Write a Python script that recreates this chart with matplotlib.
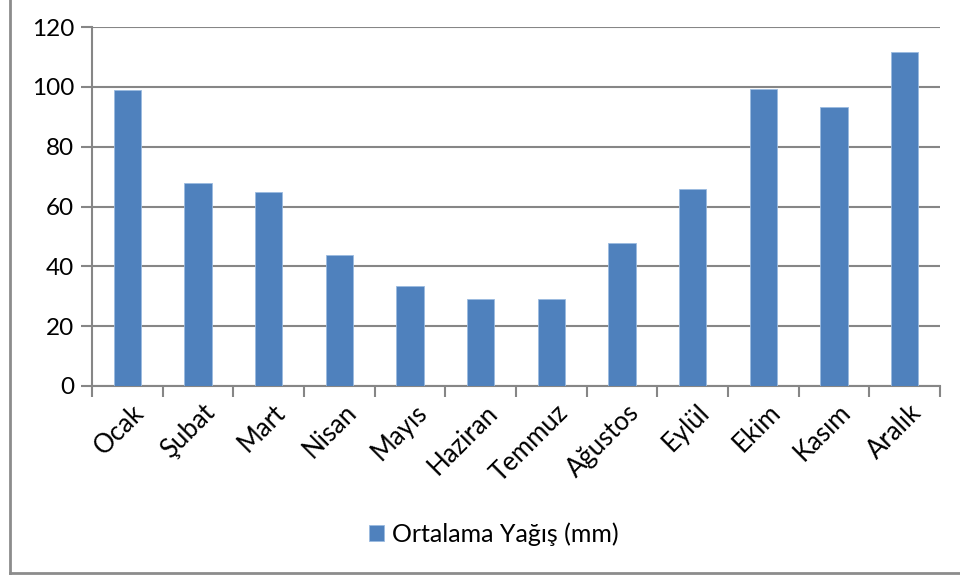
import matplotlib.pyplot as plt
from matplotlib.lines import Line2D

months = ['Ocak', 'Şubat', 'Mart', 'Nisan', 'Mayıs', 'Haziran',
          'Temmuz', 'Ağustos', 'Eylül', 'Ekim', 'Kasım', 'Aralık']
rain = [99, 67.7, 65, 43.8, 33.4, 29.1, 29.1, 47.8, 66, 99.3, 93.1, 111.7]
yticks = [0, 20, 40, 60, 80, 100, 120]
series_name = 'Ortalama Yağış (mm)'

plt.rcParams['font.family'] = ['Lato', 'DejaVu Sans']

fig = plt.figure(figsize=(9.6, 5.75), dpi=100)
ax = fig.add_axes([92 / 960, 1 - 386 / 575, 848 / 960, 359 / 575])

x = list(range(len(months)))
ax.bar(x, rain, width=0.39, color='#4F81BD', edgecolor='#9BBBE0',
       linewidth=0.6, label=series_name, zorder=3)

ax.set_ylim(0, 120)
ax.set_xlim(-0.5, len(months) - 0.5)
ax.set_yticks(yticks)
ax.yaxis.grid(True, color='#868686', linewidth=1.5, zorder=0)

# category ticks sit between the bars
ax.set_xticks([i - 0.5 for i in range(len(months) + 1)], minor=False)
ax.set_xticklabels([])
ax.set_xticks([i + 0.06 for i in x], minor=True)
ax.set_xticklabels(months, minor=True, rotation=45, ha='right',
                   rotation_mode='anchor', fontsize=18.5)
ax.tick_params(axis='x', which='minor', length=0, pad=10)
ax.tick_params(axis='x', which='major', length=8, width=1.5,
               color='#868686', direction='out')
ax.tick_params(axis='y', length=8, width=1.5, color='#868686',
               labelsize=17.5, pad=5)

for s in ['top', 'right']:
    ax.spines[s].set_visible(False)
for s in ['left', 'bottom']:
    ax.spines[s].set_color('#868686')
    ax.spines[s].set_linewidth(1.5)

fig.legend(loc='center', bbox_to_anchor=(494 / 960, 1 - 534 / 575),
           frameon=False, fontsize=18, handlelength=0.6, handleheight=0.6,
           handletextpad=0.3)

# outer chart frame (left and bottom edges visible)
fig.add_artist(Line2D([9.5 / 960, 9.5 / 960], [1 - 573 / 575, 1],
                      transform=fig.transFigure, color='#8c8c8c', lw=2))
fig.add_artist(Line2D([9.5 / 960, 1], [1 - 573 / 575, 1 - 573 / 575],
                      transform=fig.transFigure, color='#8c8c8c', lw=2))

fig.savefig('out.png', dpi=100)
